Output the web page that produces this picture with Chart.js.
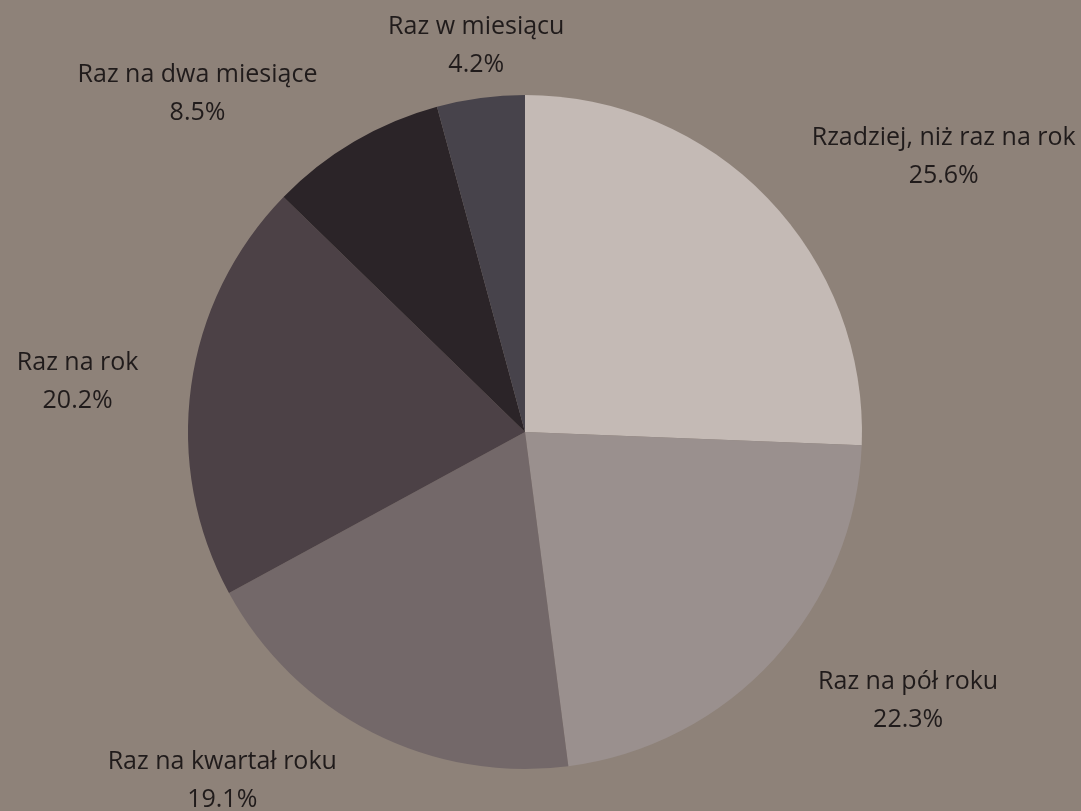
<!DOCTYPE html>
<html>
<head>
<meta charset="utf-8">
<script src="https://cdn.jsdelivr.net/npm/chart.js@4.4.1/dist/chart.umd.min.js"></script>
<style>
  html, body { margin: 0; padding: 0; background: #8e8279; }
  #wrap { width: 1081px; height: 811px; position: relative; }
</style>
</head>
<body>
<div id="wrap"><canvas id="c" width="1081" height="811"></canvas></div>
<script>
// Frequency categories and their share (%)
const categories = [
  'Rzadziej, niż raz na rok',
  'Raz na pół roku',
  'Raz na kwartał roku',
  'Raz na rok',
  'Raz na dwa miesiące',
  'Raz w miesiącu'
];
const shares = [25.6, 22.3, 19.1, 20.2, 8.5, 4.2];
const sliceColors = ['#c4bab5', '#9a908e', '#736869', '#4c4146', '#2b2428', '#47434b'];

// Draws "name / value%" outside each slice, anchored just beyond the arc at its mid-angle
const outsideLabels = {
  id: 'outsideLabels',
  afterDatasetsDraw(chart) {
    const ctx = chart.ctx;
    const meta = chart.getDatasetMeta(0);
    const lineH = 38;
    const gap = 33;
    ctx.save();
    ctx.font = '25px "Open Sans"';
    ctx.fillStyle = '#201b1b';
    ctx.textBaseline = 'middle';
    ctx.textAlign = 'center';
    meta.data.forEach((arc, i) => {
      const p = arc.getProps(['x', 'y', 'startAngle', 'endAngle', 'outerRadius'], true);
      const mid = (p.startAngle + p.endAngle) / 2;
      const cx = Math.cos(mid), sy = Math.sin(mid);
      const ax = p.x + cx * (p.outerRadius + gap);
      const ay = p.y + sy * (p.outerRadius + gap);
      const lines = [categories[i], shares[i].toFixed(1) + '%'];
      const w = Math.max(...lines.map(l => ctx.measureText(l).width));
      const h = lineH * 2 - 8;
      let bx = ax, by = ay;
      if (Math.abs(cx) >= 0.2) bx += Math.sign(cx) * (w / 2 + 20);
      if (Math.abs(sy) >= 0.2) by += Math.sign(sy) * (h / 2 - 15);
      ctx.fillText(lines[0], bx, by - lineH / 2);
      ctx.fillText(lines[1], bx, by + lineH / 2);
    });
    ctx.restore();
  }
};

new Chart(document.getElementById('c'), {
  type: 'pie',
  data: {
    labels: categories,
    datasets: [{
      data: shares,
      backgroundColor: sliceColors,
      borderWidth: 0,
      hoverOffset: 0
    }]
  },
  options: {
    responsive: false,
    animation: false,
    layout: { padding: { left: 188, right: 219, top: 95, bottom: 42 } },
    plugins: {
      legend: { display: false },
      tooltip: { enabled: false }
    }
  },
  plugins: [outsideLabels]
});
</script>
</body>
</html>
